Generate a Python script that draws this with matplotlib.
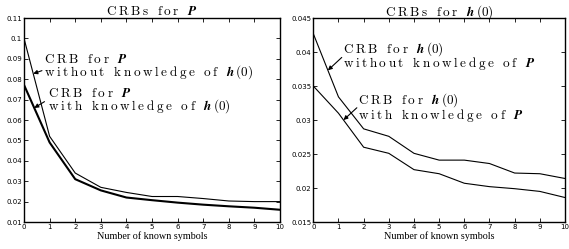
import numpy as np
import matplotlib
matplotlib.use('Agg')
import matplotlib.pyplot as plt

plt.rcParams['mathtext.fontset'] = 'cm'

n_known = np.arange(0, 11)

# CRBs for P
crb_p_without_h = [0.100, 0.052, 0.034, 0.027, 0.0245, 0.0225, 0.0225, 0.0215, 0.0203, 0.0200, 0.0200]
crb_p_with_h = [0.0772, 0.049, 0.031, 0.0255, 0.022, 0.0207, 0.0195, 0.0185, 0.0177, 0.0170, 0.0160]

# CRBs for h(0)
crb_h_without_p = [0.0427, 0.0334, 0.0287, 0.0276, 0.0251, 0.0241, 0.0241, 0.0236, 0.0222, 0.0221, 0.0214]
crb_h_with_p = [0.0350, 0.0310, 0.0260, 0.0251, 0.0227, 0.0221, 0.0207, 0.0202, 0.0199, 0.0195, 0.0186]


def spaced(words, sym):
    # letter-spaced roman text followed by a bold italic symbol, like the old psfrag labels
    body = r'\ \ \,'.join(r'\:'.join(w) for w in words.split())
    return r'$\mathrm{' + body + r'}\ \ \,' + sym + '$'


P = r'\mathbfit{P}'
H0 = r'\mathbfit{h}\,(0)'

fig = plt.figure(figsize=(5.69, 2.49), dpi=100)
ax1 = fig.add_axes([0.0422, 0.1084, 0.4500, 0.8193])
ax2 = fig.add_axes([0.5506, 0.1084, 0.4424, 0.8193])

# va='baseline' on a two-line text pins the baseline of the second line
lab_kw = dict(fontsize=9.5, va='baseline', ha='left', linespacing=0.78)
arr_kw = dict(arrowstyle='-|>', lw=0.8, color='black', mutation_scale=6, shrinkA=0, shrinkB=0)


def style(ax, ylim, yticks):
    ax.set_xlim(0, 10)
    ax.set_ylim(*ylim)
    ax.set_xticks(n_known)
    ax.set_yticks(yticks)
    ax.set_yticklabels([('%g' % t) for t in yticks])
    ax.tick_params(direction='in', length=3, width=0.6, top=True, right=True,
                   labelsize=5, pad=1.5, colors='black')
    for s in ax.spines.values():
        s.set_linewidth(1.0)
    ax.set_xlabel('Number of known symbols', fontsize=7.3, family='Liberation Serif', labelpad=1)


def label(ax, x, y, line1, line2):
    ax.text(x, y, line1 + '\n' + line2, **lab_kw)


# left panel
ax1.plot(n_known, crb_p_without_h, color='black', lw=0.8)
ax1.plot(n_known, crb_p_with_h, color='black', lw=1.5)
style(ax1, (0.01, 0.11), np.round(np.arange(0.01, 0.111, 0.01), 2))
ax1.set_title(spaced('CRBs for', P), fontsize=9.5, pad=2)

x = 0.36
ax1.annotate('', xy=(x, np.interp(x, n_known, crb_p_without_h)), xytext=(0.7, 0.0842), arrowprops=arr_kw)
label(ax1, 0.8, 0.0817, spaced('CRB for', P), spaced('without knowledge of', H0))
x = 0.4
ax1.annotate('', xy=(x, np.interp(x, n_known, crb_p_with_h)), xytext=(0.8, 0.069), arrowprops=arr_kw)
label(ax1, 0.93, 0.0650, spaced('CRB for', P), spaced('with knowledge of', H0))

# right panel
ax2.plot(n_known, crb_h_without_p, color='black', lw=0.8)
ax2.plot(n_known, crb_h_with_p, color='black', lw=0.8)
style(ax2, (0.015, 0.045), np.round(np.arange(0.015, 0.0451, 0.005), 3))
ax2.set_title(spaced('CRBs for', H0), fontsize=9.5, pad=2)

x = 0.58
ax2.annotate('', xy=(x, np.interp(x, n_known, crb_h_without_p)), xytext=(1.13, 0.0392), arrowprops=arr_kw)
label(ax2, 1.2, 0.0378, spaced('CRB for', H0), spaced('without knowledge of', P))
x = 1.2
ax2.annotate('', xy=(x, np.interp(x, n_known, crb_h_with_p)), xytext=(1.73, 0.0318), arrowprops=arr_kw)
label(ax2, 1.79, 0.0302, spaced('CRB for', H0), spaced('with knowledge of', P))

fig.savefig('out.png', dpi=100)
